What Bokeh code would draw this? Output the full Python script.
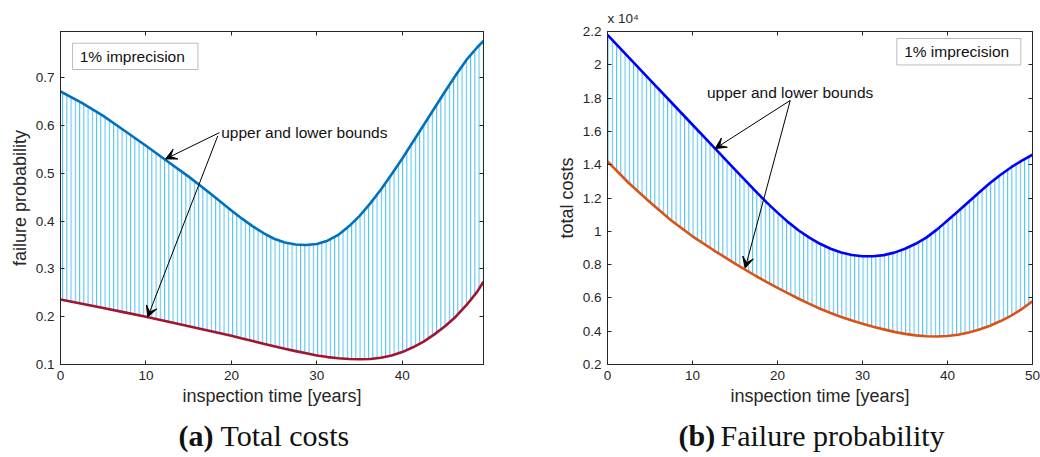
from bokeh.plotting import figure
from bokeh.models import (Range1d, LinearAxis, FixedTicker, Label, Arrow,
                          VeeHead, BoxAnnotation, CustomLabelingPolicy)
from bokeh.layouts import row, column
from bokeh.embed import file_html
from bokeh.resources import INLINE

# ---------------- data ----------------
# (a) failure probability bounds vs inspection time
years_a = [0, 2.5, 5, 7.5, 10, 12.5, 15, 17.5, 20, 21.25, 22.5, 23.75, 25,
           26.25, 27.5, 28.75, 30, 31.25, 32.5, 33.75, 35, 36.25, 37.5, 38.75,
           40, 41.25, 42.5, 43.75, 45, 46.25, 47.5, 48.75, 49.5]
upper_a = [0.671, 0.647, 0.620, 0.589, 0.5575, 0.525, 0.493, 0.458, 0.422,
           0.405, 0.389, 0.375, 0.363, 0.355, 0.351, 0.350, 0.352, 0.359,
           0.371, 0.389, 0.411, 0.437, 0.466, 0.498, 0.531, 0.566, 0.601,
           0.636, 0.671, 0.705, 0.737, 0.763, 0.777]
lower_a = [0.236, 0.227, 0.218, 0.209, 0.200, 0.190, 0.180, 0.170, 0.160,
           0.1545, 0.149, 0.1435, 0.138, 0.133, 0.128, 0.1235, 0.119, 0.1155,
           0.113, 0.1115, 0.111, 0.1115, 0.114, 0.119, 0.126, 0.136, 0.148,
           0.163, 0.180, 0.200, 0.224, 0.252, 0.273]

# (b) total costs bounds (x 10^4) vs inspection time
years_b = [0, 2.5, 5, 7.5, 10, 12.5, 15, 17.5, 18.75, 20, 21.25, 22.5, 23.75,
           25, 26.25, 27.5, 28.75, 30, 31.25, 32.5, 33.75, 35, 36.25, 37.5,
           38.75, 40, 41.25, 42.5, 43.75, 45, 46.25, 47.5, 48.75, 50]
upper_b = [2.180, 2.045, 1.910, 1.775, 1.640, 1.505, 1.370, 1.237, 1.172,
           1.112, 1.055, 1.005, 0.962, 0.925, 0.895, 0.873, 0.858, 0.850,
           0.850, 0.857, 0.872, 0.895, 0.925, 0.962, 1.010, 1.065, 1.120,
           1.178, 1.235, 1.290, 1.340, 1.385, 1.425, 1.460]
lower_b = [1.420, 1.290, 1.175, 1.065, 0.970, 0.886, 0.806, 0.730, 0.695,
           0.660, 0.627, 0.595, 0.564, 0.535, 0.509, 0.485, 0.464, 0.445,
           0.427, 0.411, 0.396, 0.384, 0.375, 0.370, 0.368, 0.371, 0.379,
           0.392, 0.410, 0.433, 0.461, 0.494, 0.533, 0.580]

xticks_a = [0, 10, 20, 30, 40]
yticks_a = [0.1, 0.2, 0.3, 0.4, 0.5, 0.6, 0.7]
xticks_b = [0, 10, 20, 30, 40, 50]
yticks_b = [0.2, 0.4, 0.6, 0.8, 1.0, 1.2, 1.4, 1.6, 1.8, 2.0, 2.2]
ytick_labels_b = ["0.2", "0.4", "0.6", "0.8", "1", "1.2", "1.4", "1.6",
                  "1.8", "2", "2.2"]

FONT = "Liberation Sans"
AX = "#262626"
HATCH = "#4DBEEE"

NO_LABELS = "for (const i of [...indices]) indices.unset(i); return indices"


def mirror_axis(ticks):
    return LinearAxis(ticker=FixedTicker(ticks=ticks), major_tick_in=4,
                      major_tick_out=0, minor_tick_line_color=None,
                      major_label_policy=CustomLabelingPolicy(code=NO_LABELS),
                      major_label_text_font_size="1px",
                      major_label_standoff=0, axis_line_color=AX,
                      major_tick_line_color=AX)


def style(p, xt, yt, ylabels=None):
    p.xaxis.ticker = FixedTicker(ticks=xt)
    p.yaxis.ticker = FixedTicker(ticks=yt)
    if ylabels is not None:
        p.yaxis.major_label_overrides = {v: s for v, s in zip(yt, ylabels)}
    for ax in p.axis:
        ax.major_tick_in = 4
        ax.major_tick_out = 0
        ax.minor_tick_line_color = None
        ax.axis_line_color = AX
        ax.major_tick_line_color = AX
        ax.major_label_text_font = FONT
        ax.major_label_text_font_size = "13.5px"
        ax.major_label_text_color = AX
        ax.axis_label_text_font = FONT
        ax.axis_label_text_font_size = "18px"
        ax.axis_label_text_font_style = "normal"
        ax.axis_label_text_color = AX
        ax.major_label_standoff = 6
        ax.axis_label_standoff = 3
    p.grid.visible = False
    p.outline_line_color = AX
    p.add_layout(mirror_axis(xt), "above")
    p.add_layout(mirror_axis(yt), "right")


def arrow(p, x0, y0, x1, y1):
    p.add_layout(Arrow(x_start=x0, y_start=y0, x_end=x1, y_end=y1,
                       line_width=1, line_color="black",
                       end=VeeHead(size=11, fill_color="black",
                                   line_color="black")))


def text(p, x, y, s, size="15.5px"):
    p.add_layout(Label(x=x, y=y, text=s, text_font=FONT, text_font_size=size,
                       text_baseline="middle", text_color="#111111"))


# ---------------- plot (a) ----------------
p1 = figure(width=520, height=410, output_backend="svg", toolbar_location=None,
            x_range=Range1d(0, 49.5), y_range=Range1d(0.1, 0.7965),
            min_border_left=60, min_border_right=37, min_border_top=30,
            min_border_bottom=46,
            x_axis_label="inspection time [years]",
            y_axis_label="failure probability")
p1.varea(x=years_a, y1=lower_a, y2=upper_a, fill_alpha=0,
         hatch_pattern="vertical_line", hatch_color=HATCH, hatch_weight=1,
         hatch_scale=4.25)
p1.line(years_a, upper_a, line_color="#0072BD", line_width=2.6,
        line_join="round")
p1.line(years_a, lower_a, line_color="#A2142F", line_width=2.6,
        line_join="round")
style(p1, xticks_a, yticks_a)

p1.add_layout(BoxAnnotation(left=1.41, right=16.08, bottom=0.717, top=0.772,
                            fill_color="white", fill_alpha=1,
                            line_color=AX, line_width=1))
text(p1, 2.25, 0.7444, "1% imprecision")
text(p1, 18.8, 0.585, "upper and lower bounds")
arrow(p1, 18.6, 0.585, 12.3, 0.530)
arrow(p1, 18.4, 0.578, 10.2, 0.199)

# ---------------- plot (b) ----------------
p2 = figure(width=520, height=410, output_backend="svg", toolbar_location=None,
            x_range=Range1d(0, 50), y_range=Range1d(0.2, 2.2),
            min_border_left=87, min_border_right=8, min_border_top=31,
            min_border_bottom=45,
            x_axis_label="inspection time [years]",
            y_axis_label="total costs")
p2.title.text = "x 10\u2074"
p2.title.text_font = FONT
p2.title.text_font_size = "13.5px"
p2.title.text_font_style = "normal"
p2.title.text_color = AX
p2.title.align = "left"
p2.title.offset = 0
p2.title.standoff = 3
p2.varea(x=years_b, y1=lower_b, y2=upper_b, fill_alpha=0,
         hatch_pattern="vertical_line", hatch_color=HATCH, hatch_weight=1,
         hatch_scale=4.25)
p2.line(years_b, upper_b, line_color="#0000FF", line_width=2.6,
        line_join="round")
p2.line(years_b, lower_b, line_color="#D95319", line_width=2.6,
        line_join="round")
style(p2, xticks_b, yticks_b, ytick_labels_b)

p2.add_layout(BoxAnnotation(left=34.04, right=48.62, bottom=1.999, top=2.158,
                            fill_color="white", fill_alpha=1,
                            line_color=AX, line_width=1))
text(p2, 34.9, 2.079, "1% imprecision")
text(p2, 11.7, 1.835, "upper and lower bounds")
arrow(p2, 21.5, 1.786, 12.66, 1.497)
arrow(p2, 21.5, 1.786, 16.2, 0.779)

# ---------------- captions ----------------
cap = figure(width=1040, height=47, output_backend="svg", toolbar_location=None,
             x_range=Range1d(0, 1040), y_range=Range1d(0, 47), min_border=0)
cap.axis.visible = False
cap.grid.visible = False
cap.outline_line_color = None
for x, t, bold in [(178, "(a)", True), (220, "Total costs", False),
                   (678, "(b)", True), (720, "Failure probability", False)]:
    cap.add_layout(Label(x=x, y=22, text=t, text_font="Liberation Serif",
                         text_font_size="30px",
                         text_font_style="bold" if bold else "normal",
                         text_baseline="alphabetic", text_color="#111111"))

layout = column(row(p1, p2), cap)
open("out.html", "w").write(file_html(layout, INLINE))
